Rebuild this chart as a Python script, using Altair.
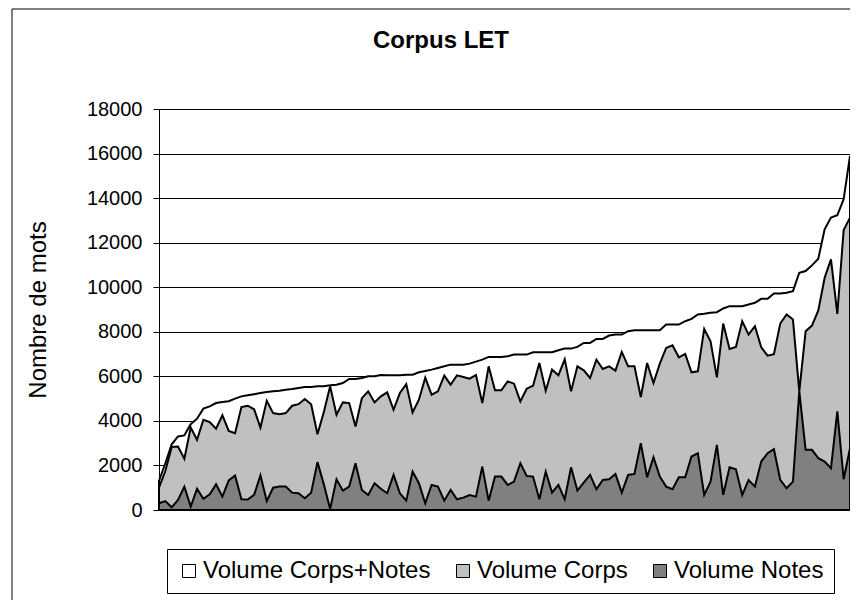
import altair as alt
import pandas as pd

# Values (110 documents, sorted by total volume)
total = [1300, 2100, 2950, 3300, 3350, 3850, 4100, 4550, 4650, 4800,
         4850, 4880, 5000, 5100, 5150, 5200, 5250, 5300, 5330, 5355,
         5400, 5430, 5475, 5520, 5520, 5550, 5550, 5600, 5625, 5700,
         5880, 5880, 5925, 6000, 6000, 6060, 6045, 6045, 6045, 6075,
         6075, 6180, 6240, 6300, 6375, 6450, 6525, 6525, 6525, 6570,
         6660, 6750, 6870, 6870, 6870, 6900, 6975, 6975, 6975, 7080,
         7080, 7080, 7080, 7170, 7245, 7245, 7320, 7500, 7500, 7680,
         7680, 7830, 7875, 7875, 8025, 8070, 8070, 8070, 8070, 8070,
         8325, 8325, 8325, 8475, 8580, 8775, 8805, 8850, 8880, 9045,
         9150, 9150, 9150, 9225, 9300, 9480, 9480, 9720, 9720, 9750,
         9825, 10650, 10725, 10980, 11280, 12600, 13125, 13230, 13950, 15900]

corps = [1000, 1750, 2830, 2850, 2300, 3700, 3150, 4050, 3950, 3650,
         4250, 3550, 3450, 4620, 4680, 4520, 3700, 4900, 4350, 4300,
         4350, 4680, 4750, 4980, 4750, 3400, 4400, 5550, 4275, 4830,
         4800, 3750, 5020, 5325, 4830, 5100, 5280, 4500, 5250, 5650,
         4380, 4950, 5940, 5175, 5330, 6030, 5625, 6045, 5970, 5895,
         6060, 4800, 6450, 5370, 5370, 5775, 5670, 4875, 5445, 5580,
         6600, 5355, 6300, 6045, 6765, 5325, 6450, 6270, 5925, 6750,
         6330, 6450, 6255, 7095, 6450, 6450, 5070, 6600, 5700, 6570,
         7275, 7395, 6855, 7005, 6180, 6225, 8130, 7575, 5955, 8370,
         7230, 7320, 8475, 7875, 8250, 7305, 6930, 6990, 8370, 8775,
         8550, 5325, 8025, 8280, 8955, 10425, 11250, 8805, 12570, 13125]

notes = [300, 400, 120, 450, 1050, 150, 950, 500, 700, 1150,
         600, 1330, 1550, 480, 470, 680, 1550, 400, 1000, 1050,
         1050, 780, 750, 525, 780, 2150, 1150, 50, 1380, 870,
         1050, 2100, 900, 675, 1200, 950, 750, 1575, 750, 420,
         1725, 1200, 300, 1125, 1050, 420, 900, 480, 555, 675,
         600, 1950, 420, 1500, 1500, 1125, 1275, 2100, 1530, 1500,
         480, 1725, 780, 1125, 480, 1920, 870, 1230, 1575, 930,
         1350, 1380, 1620, 780, 1575, 1620, 3000, 1470, 2370, 1500,
         1050, 930, 1470, 1470, 2400, 2550, 675, 1275, 2925, 675,
         1920, 1830, 675, 1350, 1050, 2175, 2550, 2730, 1350, 975,
         1275, 5325, 2700, 2700, 2325, 2175, 1875, 4425, 1380, 2775]

series_names = ["Volume Corps+Notes", "Volume Corps", "Volume Notes"]
fills = ["#ffffff", "#c0c0c0", "#808080"]
y_ticks = [0, 2000, 4000, 6000, 8000, 10000, 12000, 14000, 16000, 18000]
title_text = "Corpus LET"

idx = list(range(len(total)))
df = pd.concat([
    pd.DataFrame({"idx": idx, "value": vals, "series": name})
    for name, vals in zip(series_names, [total, corps, notes])
], ignore_index=True)

FONT = "Liberation Sans"

color = alt.Color(
    "series:N",
    scale=alt.Scale(domain=series_names, range=fills),
    legend=alt.Legend(
        title=None, orient="none", legendX=8, legendY=440,
        direction="horizontal", symbolType="square", symbolSize=169,
        symbolStrokeColor="black", symbolStrokeWidth=1,
        labelFont=FONT, labelFontSize=24, labelColor="black",
        labelLimit=0, labelOffset=2, columnPadding=20, padding=10,
        strokeColor="black",
    ),
)

x = alt.X(
    "idx:Q",
    scale=alt.Scale(domain=[0, len(total) - 1], nice=False, zero=False),
    axis=alt.Axis(labels=False, ticks=False, grid=False, title=None,
                  domainColor="black", domainWidth=1),
)
y = alt.Y(
    "value:Q", stack=None,
    scale=alt.Scale(domain=[0, 18000], nice=False),
    axis=alt.Axis(values=y_ticks, title="Nombre de mots", format="d",
                  labelFont=FONT, labelFontSize=20, labelColor="black",
                  titleFont=FONT, titleFontSize=24, titleFontWeight="normal",
                  titleColor="black", titlePadding=36,
                  tickColor="black", tickSize=6, labelPadding=11,
                  domainColor="black", gridColor="black", gridWidth=1,
                  gridOpacity=1),
)

layers = []
for name in series_names:
    layers.append(
        alt.Chart(df)
        .transform_filter(alt.datum.series == name)
        .mark_area(stroke="black", strokeWidth=2, fillOpacity=1, opacity=1)
        .encode(x=x, y=y, color=color)
    )

frame = pd.DataFrame({"label": [title_text]})
left_border = alt.Chart(frame).mark_rule(color="black", strokeWidth=1).encode(
    x=alt.value(-147), y=alt.value(-100), y2=alt.value(600))
top_border = alt.Chart(frame).mark_rule(color="black", strokeWidth=1).encode(
    x=alt.value(-147), x2=alt.value(720), y=alt.value(-100))
title = alt.Chart(frame).mark_text(
    font=FONT, fontSize=24, fontWeight="bold", color="black",
    align="center", baseline="alphabetic",
).encode(x=alt.value(282), y=alt.value(-61), text="label:N")

chart = alt.layer(*layers, left_border, top_border, title).properties(
    width=691, height=401,
    padding={"left": 151, "top": 101, "right": 0, "bottom": 90},
    autosize=alt.AutoSizeParams(type="none"),
).configure_view(stroke="#808080", strokeWidth=1)

chart.save("out.html", embed_options={"renderer": "svg", "actions": False})
